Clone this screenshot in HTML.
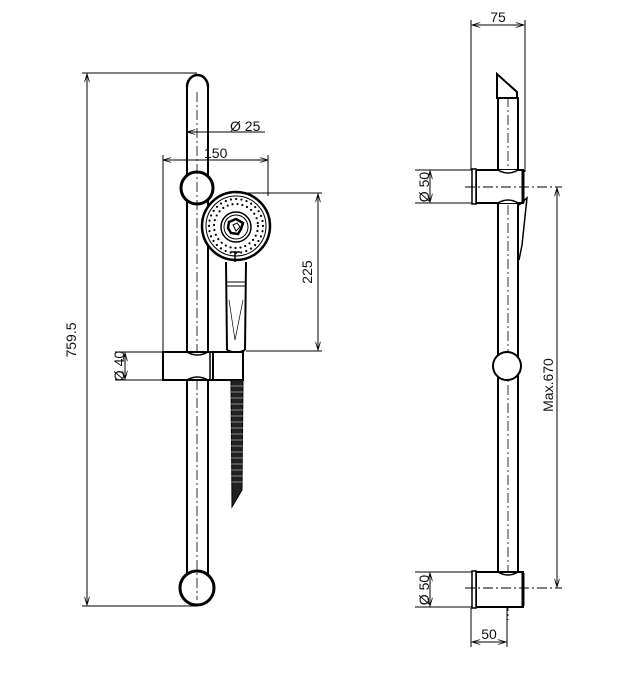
<!DOCTYPE html>
<html><head><meta charset="utf-8"><style>
html,body{margin:0;padding:0;background:#fff;}
svg{display:block;}
text{font-family:"Liberation Sans",sans-serif;font-size:14px;fill:#111;}
</style></head><body>
<svg width="642" height="679" viewBox="0 0 642 679" xmlns="http://www.w3.org/2000/svg">
<defs>
<marker id="a" viewBox="0 0 10 6" refX="10" refY="3" markerWidth="9" markerHeight="5" orient="auto-start-reverse"><path d="M0,0 L10,3 L0,6" fill="none" stroke="#000" stroke-width="1"/></marker>
</defs>
<g stroke="#000" fill="none" stroke-width="1">
<line x1="187" y1="85" x2="187" y2="585" stroke-width="2"/>
<line x1="208" y1="85" x2="208" y2="585" stroke-width="2"/>
<path d="M187,87 A10.5,12 0 0 1 208,87" stroke-width="2.5"/>
<circle cx="197" cy="188" r="16" fill="#fff" stroke-width="3"/>
<circle cx="197" cy="588" r="17" fill="#fff" stroke-width="3"/>
<line x1="197" y1="92" x2="197" y2="600" stroke-dasharray="10,3,2,3" stroke-width="0.8"/>
<line x1="82" y1="73" x2="197" y2="73"/>
<line x1="82" y1="606" x2="197" y2="606"/>
<line x1="87" y1="74" x2="87" y2="605" marker-start="url(#a)" marker-end="url(#a)"/>
<line x1="187" y1="132" x2="265" y2="132" marker-start="url(#a)"/>
<line x1="163" y1="160" x2="268" y2="160" marker-start="url(#a)" marker-end="url(#a)"/>
<line x1="163" y1="155" x2="163" y2="380"/>
<line x1="268" y1="155" x2="268" y2="196"/>
<circle cx="236" cy="226" r="34" stroke-width="2.5" fill="#fff"/>
<circle cx="236" cy="226" r="30" stroke-width="1"/>
<circle cx="236" cy="226" r="27" stroke-width="2.2" stroke-dasharray="0 5.3" stroke-linecap="round"/>
<circle cx="236" cy="226" r="22" stroke-width="2.2" stroke-dasharray="0 5" stroke-linecap="round"/>
<circle cx="236" cy="227" r="15" stroke-width="1.5" fill="#fff"/>
<circle cx="236" cy="227" r="12" stroke-width="1"/>
<path d="M229,222 L236,219 L243,223 L241,229 L238,234 L231,233 L228,228 Z" stroke-width="2.5"/>
<path d="M233,225 L237,223 L240,227 L236,231 Z" stroke-width="1"/>
<line x1="235" y1="252" x2="235" y2="262" stroke-width="1.5"/>
<line x1="231" y1="252" x2="240" y2="252" stroke-width="1.5"/>
<path d="M226,262 L227,350 M246,262 L245,350" stroke-width="2"/>
<path d="M227,350 Q236,355 245,350" stroke-width="2"/>
<line x1="227" y1="282" x2="246" y2="282"/>
<line x1="227" y1="286" x2="246" y2="286"/>
<path d="M229,300 L235,340 L243,300" stroke-width="0.7"/>
<line x1="236" y1="193" x2="322" y2="193"/>
<line x1="246" y1="351" x2="322" y2="351"/>
<line x1="318" y1="194" x2="318" y2="350" marker-start="url(#a)" marker-end="url(#a)"/>
<rect x="163" y="352" width="50" height="28" fill="#fff" stroke-width="2"/>
<rect x="213" y="352" width="30" height="28" fill="#fff" stroke-width="2"/>
<line x1="210" y1="352" x2="210" y2="380" stroke-width="1.5"/>
<path d="M187,352 Q197,358 208,352 M187,380 Q197,374 208,380" stroke-width="1.5"/>
<line x1="115" y1="352" x2="163" y2="352"/>
<line x1="115" y1="380" x2="163" y2="380"/>
<line x1="125" y1="353" x2="125" y2="379" marker-start="url(#a)" marker-end="url(#a)"/>
<path d="M231,380 L243,380 L242,490 L232,507 Z" fill="#222" stroke-width="1"/>
<path d="M231,386 L243,386 M231,392 L243,392 M231,398 L243,398 M231,404 L243,404 M231,410 L243,410 M231,416 L243,416 M231,422 L243,422 M231,428 L243,428 M231,434 L243,434 M231,440 L243,440 M231,446 L243,446 M231,452 L243,452 M231,458 L243,458 M231,464 L243,464 M231,470 L243,470 M231,476 L243,476 M231,482 L243,482" stroke="#888" stroke-width="1"/>

<line x1="498" y1="97" x2="498" y2="585" stroke-width="2"/>
<line x1="518" y1="97" x2="518" y2="585" stroke-width="2"/>
<path d="M497,74 L517,92 L517,98 L497,98 Z" stroke-width="2" fill="#fff"/>
<line x1="508" y1="97" x2="508" y2="620" stroke-dasharray="10,3,2,3" stroke-width="0.8"/>
<line x1="471" y1="20" x2="471" y2="170"/>
<line x1="525" y1="20" x2="525" y2="172"/>
<line x1="472" y1="25" x2="524" y2="25" marker-start="url(#a)" marker-end="url(#a)"/>
<rect x="476" y="170" width="47" height="33" fill="#fff" stroke-width="2"/>
<rect x="472" y="169" width="4" height="35" fill="#fff" stroke-width="1.5"/>
<line x1="523" y1="170" x2="523" y2="203" stroke-width="3"/>
<path d="M498,170 Q508,176 518,170 M498,203 Q508,197 518,203" stroke-width="1.5" fill="#fff"/>
<path d="M519,205 L527,198 L522,245 L519,260" stroke-width="1.5"/>
<line x1="465" y1="187" x2="562" y2="187" stroke-dasharray="10,3,2,3"/>
<line x1="415" y1="170" x2="472" y2="170"/>
<line x1="415" y1="203" x2="472" y2="203"/>
<line x1="430" y1="171" x2="430" y2="202" marker-start="url(#a)" marker-end="url(#a)"/>
<circle cx="507" cy="366" r="14" fill="#fff" stroke-width="2"/>
<rect x="476" y="572" width="47" height="35" fill="#fff" stroke-width="2"/>
<rect x="472" y="571" width="4" height="37" fill="#fff" stroke-width="1.5"/>
<line x1="523" y1="573" x2="523" y2="606" stroke-width="3"/>
<path d="M498,572 Q508,578 518,572" stroke-width="1.5"/>
<line x1="465" y1="588" x2="562" y2="588" stroke-dasharray="10,3,2,3"/>
<line x1="415" y1="572" x2="472" y2="572"/>
<line x1="415" y1="607" x2="472" y2="607"/>
<line x1="430" y1="573" x2="430" y2="606" marker-start="url(#a)" marker-end="url(#a)"/>
<line x1="557" y1="188" x2="557" y2="587" marker-start="url(#a)" marker-end="url(#a)"/>
<line x1="471" y1="608" x2="471" y2="647"/>
<line x1="507" y1="608" x2="507" y2="647"/>
<line x1="472" y1="642" x2="506" y2="642" marker-start="url(#a)" marker-end="url(#a)"/>
</g>
<g>
<text x="76" y="340" transform="rotate(-90 76 340)" text-anchor="middle">759.5</text>
<text x="230" y="131">Ø 25</text>
<text x="204" y="158">150</text>
<text x="312" y="272" transform="rotate(-90 312 272)" text-anchor="middle">225</text>
<text x="124" y="366" transform="rotate(-90 124 366)" text-anchor="middle">Ø 40</text>
<text x="498" y="22" text-anchor="middle">75</text>
<text x="429" y="187" transform="rotate(-90 429 187)" text-anchor="middle">Ø 50</text>
<text x="429" y="590" transform="rotate(-90 429 590)" text-anchor="middle">Ø 50</text>
<text x="553" y="385" transform="rotate(-90 553 385)" text-anchor="middle">Max.670</text>
<text x="489" y="639" text-anchor="middle">50</text>
</g>
</svg>
</body></html>
